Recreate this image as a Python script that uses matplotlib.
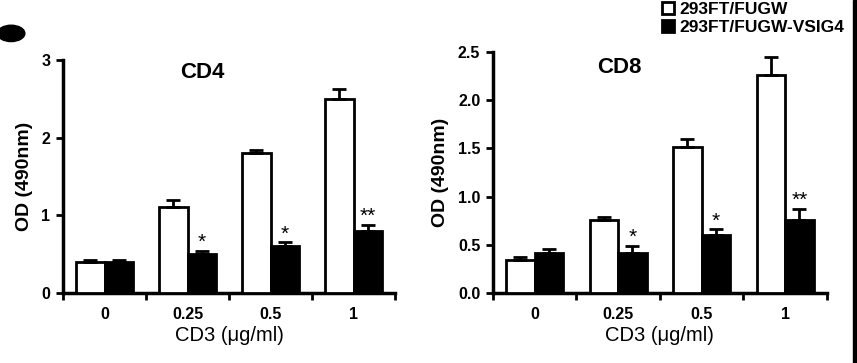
import numpy as np
import matplotlib
matplotlib.use('Agg')
import matplotlib.pyplot as plt
from matplotlib.patches import Ellipse, Rectangle

plt.rcParams['font.family'] = ['Liberation Sans', 'DejaVu Sans']

doses = ['0', '0.25', '0.5', '1']
series_names = ['293FT/FUGW', '293FT/FUGW-VSIG4']

# CD4 panel
cd4_ctrl = [0.40, 1.10, 1.80, 2.50]
cd4_ctrl_err = [0.03, 0.09, 0.04, 0.12]
cd4_vsig4 = [0.40, 0.50, 0.60, 0.80]
cd4_vsig4_err = [0.02, 0.04, 0.05, 0.08]
cd4_stars = ['', '*', '*', '**']

# CD8 panel
cd8_ctrl = [0.34, 0.76, 1.51, 2.26]
cd8_ctrl_err = [0.03, 0.03, 0.09, 0.19]
cd8_vsig4 = [0.41, 0.41, 0.60, 0.76]
cd8_vsig4_err = [0.05, 0.08, 0.06, 0.11]
cd8_stars = ['', '*', '*', '**']


def draw_panel(ax, title, title_xy, ctrl, ctrl_err, vsig, vsig_err, stars, ymax, yticks, ylabels):
    x = np.arange(len(doses))
    w = 0.34
    ax.bar(x - w / 2, ctrl, w, color='white', edgecolor='black', linewidth=2,
           yerr=[np.zeros(len(ctrl)), ctrl_err], error_kw=dict(ecolor='black', elinewidth=2, capsize=5, capthick=2),
           label=series_names[0], zorder=3)
    ax.bar(x + w / 2, vsig, w, color='black', edgecolor='black', linewidth=2,
           yerr=[np.zeros(len(vsig)), vsig_err], error_kw=dict(ecolor='black', elinewidth=2, capsize=5, capthick=2),
           label=series_names[1], zorder=3)
    for i, s in enumerate(stars):
        if s:
            ax.text(x[i] + w / 2, vsig[i] + vsig_err[i] - ymax * 0.005, s, ha='center', va='bottom',
                    fontsize=15)
    ax.set_xlim(-0.5, len(doses) - 0.5)
    ax.set_ylim(0, ymax)
    ax.set_yticks(yticks)
    ax.set_yticklabels(ylabels, fontsize=11.5, fontweight='bold')
    ax.set_xticks(x)
    ax.set_xticklabels(doses, fontsize=11.5, fontweight='bold')
    ax.tick_params(axis='x', length=0, pad=10)
    ax.set_xticks(np.arange(-0.5, len(doses)), minor=True)
    ax.tick_params(axis='x', which='minor', length=5, width=2, direction='out')
    ax.tick_params(axis='y', length=5, width=2, direction='out', pad=4)
    for side in ['top', 'right']:
        ax.spines[side].set_visible(False)
    for side in ['left', 'bottom']:
        ax.spines[side].set_linewidth(2.5)
    ax.text(title_xy[0], title_xy[1], title, transform=ax.transAxes, ha='center', va='center',
            fontsize=16, fontweight='bold')
    ax.set_ylabel('OD (490nm)', fontsize=14, fontweight='bold', labelpad=6)
    ax.set_xlabel('CD3 (\u03bcg/ml)', fontsize=14.5, labelpad=3)


fig = plt.figure(figsize=(8.57, 3.63), dpi=100)
ax1 = fig.add_axes([0.0735, 0.193, 0.3875, 0.642])
ax2 = fig.add_axes([0.575, 0.193, 0.39, 0.664])

draw_panel(ax1, 'CD4', (0.42, 0.945), cd4_ctrl, cd4_ctrl_err, cd4_vsig4, cd4_vsig4_err, cd4_stars,
           3, [0, 1, 2, 3], ['0', '1', '2', '3'])
draw_panel(ax2, 'CD8', (0.38, 0.935), cd8_ctrl, cd8_ctrl_err, cd8_vsig4, cd8_vsig4_err, cd8_stars,
           2.5, [0, 0.5, 1.0, 1.5, 2.0, 2.5], ['0.0', '0.5', '1.0', '1.5', '2.0', '2.5'])

handles, labels = ax2.get_legend_handles_labels()
leg = fig.legend(handles, labels, loc='upper left', bbox_to_anchor=(0.772, 0.995), frameon=False,
                 prop={'weight': 'bold', 'size': 12.5}, handlelength=0.7, handleheight=0.7,
                 handletextpad=0.3, labelspacing=0.15, borderaxespad=0, borderpad=0)

# smudge of the panel letter in the corner and the dark strip on the right edge
fig.patches.append(Ellipse((0.013, 0.908), 0.032, 0.045, transform=fig.transFigure, color='black'))
fig.patches.append(Rectangle((0.9955, 0), 0.0045, 1, transform=fig.transFigure, color='black'))

fig.savefig('out.png', dpi=100)
